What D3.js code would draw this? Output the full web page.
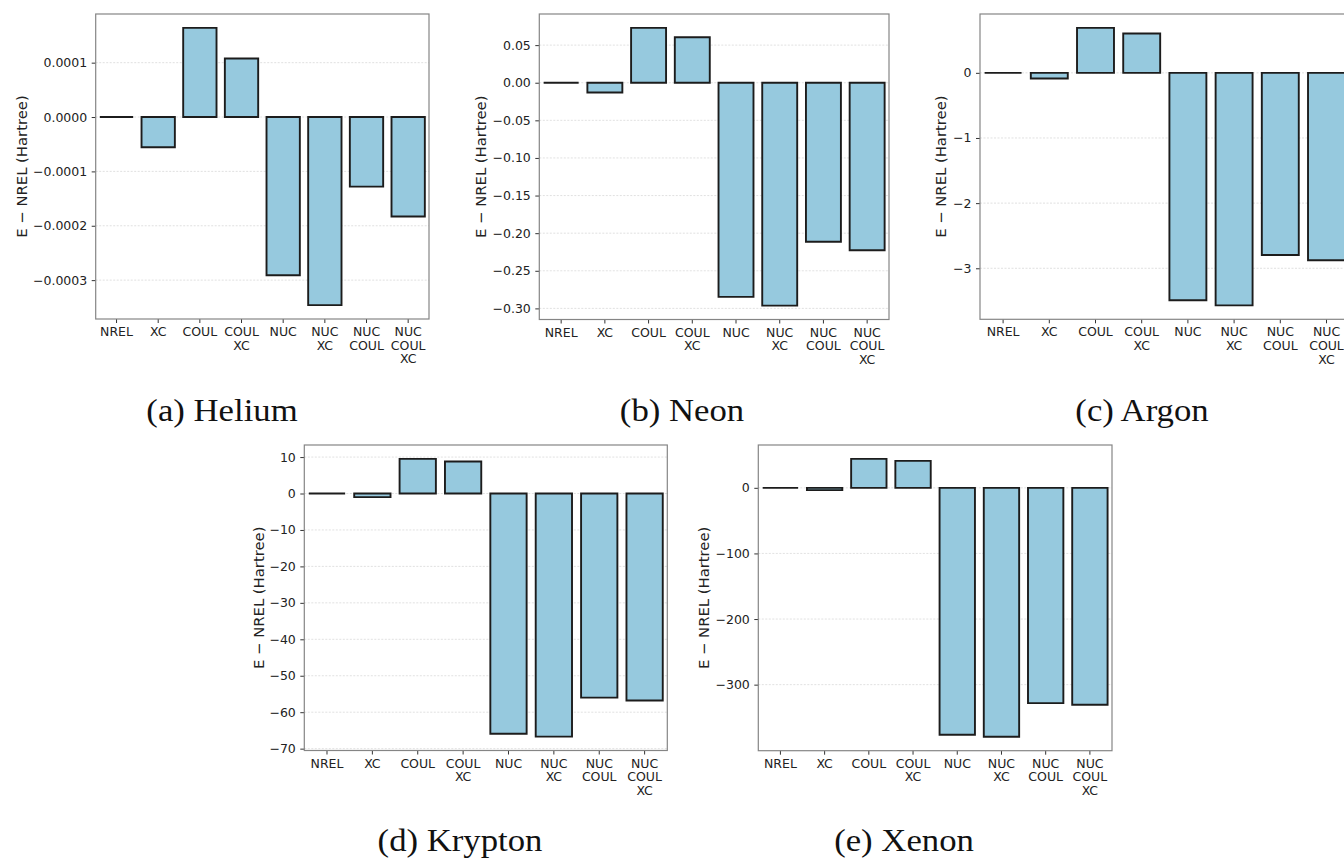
<!DOCTYPE html>
<html lang="en">
    <head>
        <meta charset="utf-8">
        <title>E - NREL by element</title>
        <script type="text/javascript" src="https://cdn.jsdelivr.net/npm/d3@7"></script>
        <style type="text/css">
           body { margin: 0; background: #fff; overflow: hidden; }
           .tick text {
               font-family: "DejaVu Sans", sans-serif;
               font-size: 12.5px;
               fill: #222;
           }
           .ylabel {
               font-family: "DejaVu Sans", sans-serif;
               font-size: 14.8px;
               fill: #222;
           }
           .caption {
               font-family: "Liberation Serif", serif;
               font-size: 31px;
               fill: #111;
           }
        </style>
    </head>
    <body>
        <script type="text/javascript">

              var w = 1344;
              var h = 858;

              var categories = [ ["NREL"], ["XC"], ["COUL"], ["COUL", "XC"], ["NUC"],
                                 ["NUC", "XC"], ["NUC", "COUL"], ["NUC", "COUL", "XC"] ];

              // E - NREL in Hartree
              var helium  = [ 0, -0.0000556, 0.000164, 0.0001077, -0.000291, -0.000346, -0.000128, -0.000183 ];
              var neon    = [ 0, -0.0129, 0.0729, 0.0605, -0.2847, -0.2963, -0.2114, -0.2228 ];
              var argon   = [ 0, -0.086, 0.69, 0.604, -3.49, -3.57, -2.796, -2.877 ];
              var krypton = [ 0, -1.0, 9.5, 8.77, -65.9, -66.7, -56.0, -56.8 ];
              var xenon   = [ 0, -3.5, 44.1, 41.1, -376.4, -379.5, -328.2, -330.7 ];

              var heliumTicks  = [ -0.0003, -0.0002, -0.0001, 0, 0.0001 ];
              var neonTicks    = [ -0.30, -0.25, -0.20, -0.15, -0.10, -0.05, 0, 0.05 ];
              var argonTicks   = [ -3, -2, -1, 0 ];
              var kryptonTicks = [ -70, -60, -50, -40, -30, -20, -10, 0, 10 ];
              var xenonTicks   = [ -300, -200, -100, 0 ];

              var captions = [ "(a) Helium", "(b) Neon", "(c) Argon", "(d) Krypton", "(e) Xenon" ];

              // frame box of each subplot, label position, caption centre
              var panels = [
                  { values: helium,  ticks: heliumTicks,  fmt: ".4f", x: 95.7,  y: 14,  pw: 333.3, ph: 305, lx: 26.5, cx: 222, cy: 421 },
                  { values: neon,    ticks: neonTicks,    fmt: ".2f", x: 539.3, y: 14,  pw: 349.7, ph: 305.5, lx: 486, cx: 682, cy: 421 },
                  { values: argon,   ticks: argonTicks,   fmt: "d",   x: 980,   y: 14,  pw: 369.6, ph: 305.3, lx: 946, cx: 1142, cy: 421 },
                  { values: krypton, ticks: kryptonTicks, fmt: "d",   x: 304.3, y: 445, pw: 363,   ph: 305.5, lx: 264, cx: 460, cy: 851 },
                  { values: xenon,   ticks: xenonTicks,   fmt: "d",   x: 758.3, y: 445, pw: 353.7, ph: 305.7, lx: 709, cx: 904, cy: 851 }
              ];

              var svg = d3.select("body")
                          .append("svg")
                          .attr("width", w)
                          .attr("height", h);

              panels.forEach(function(p, k) {
                  var g = svg.append("g")
                             .attr("transform", "translate(" + p.x + "," + p.y + ")");

                  var lo = d3.min(p.values), hi = d3.max(p.values);
                  var pad = (hi - lo) * 0.05;

                  var x = d3.scaleBand()
                            .domain(d3.range(categories.length))
                            .range([0, p.pw])
                            .paddingInner(0.2)
                            .paddingOuter(0.1);

                  var y = d3.scaleLinear()
                            .domain([lo - pad, hi + pad])
                            .range([p.ph, 0]);

                  // dotted grid
                  g.selectAll("line.grid")
                   .data(p.ticks)
                   .enter()
                   .append("line")
                   .attr("class", "grid")
                   .attr("x1", 0)
                   .attr("x2", p.pw)
                   .attr("y1", function(d) { return y(d); })
                   .attr("y2", function(d) { return y(d); })
                   .attr("stroke", "#d9d9d9")
                   .attr("stroke-width", 0.8)
                   .attr("stroke-dasharray", "2,1.5");

                  // bars as paths so the zero-height NREL bar still shows its edge
                  g.selectAll("path.bar")
                   .data(p.values)
                   .enter()
                   .append("path")
                   .attr("class", "bar")
                   .attr("d", function(d, i) {
                       var x0 = x(i), bw = x.bandwidth();
                       var y0 = y(0), y1 = y(d);
                       return "M" + x0 + "," + y0 + "H" + (x0 + bw) + "V" + y1 + "H" + x0 + "Z";
                   })
                   .attr("fill", "#96c9de")
                   .attr("stroke", "#1c1c1c")
                   .attr("stroke-width", 1.9)
                   .attr("stroke-linejoin", "miter");

                  // y axis
                  var yAxis = d3.axisLeft(y)
                                .tickValues(p.ticks)
                                .tickFormat(d3.format(p.fmt))
                                .tickSize(4)
                                .tickPadding(4.5);
                  var ya = g.append("g").call(yAxis);
                  ya.select(".domain").remove();
                  ya.selectAll(".tick line").attr("stroke", "#333");

                  // x axis
                  var xAxis = d3.axisBottom(x)
                                .tickSize(4)
                                .tickFormat("");
                  var xa = g.append("g")
                            .attr("transform", "translate(0," + p.ph + ")")
                            .call(xAxis);
                  xa.select(".domain").remove();
                  xa.selectAll(".tick line").attr("stroke", "#333");
                  xa.selectAll(".tick text").remove();
                  xa.selectAll(".tick")
                    .append("text")
                    .attr("text-anchor", "middle")
                    .attr("fill", "#222")
                    .selectAll("tspan")
                    .data(function(d) { return categories[d]; })
                    .enter()
                    .append("tspan")
                    .attr("x", 0)
                    .attr("y", function(d, j) { return 17 + j * 13.7; })
                    .text(function(d) { return d; });

                  // frame
                  g.append("rect")
                   .attr("width", p.pw)
                   .attr("height", p.ph)
                   .attr("fill", "none")
                   .attr("stroke", "#858585")
                   .attr("stroke-width", 1.2);

                  // y label
                  svg.append("text")
                     .attr("class", "ylabel")
                     .attr("transform", "translate(" + p.lx + "," + (p.y + p.ph / 2) + ") rotate(-90)")
                     .attr("text-anchor", "middle")
                     .text("E \u2212 NREL (Hartree)");

                  // caption
                  svg.append("text")
                     .attr("class", "caption")
                     .attr("transform", "translate(" + p.cx + "," + p.cy + ") scale(1.12,1)")
                     .attr("text-anchor", "middle")
                     .text(captions[k]);
              });

        </script>
    </body>
</html>
